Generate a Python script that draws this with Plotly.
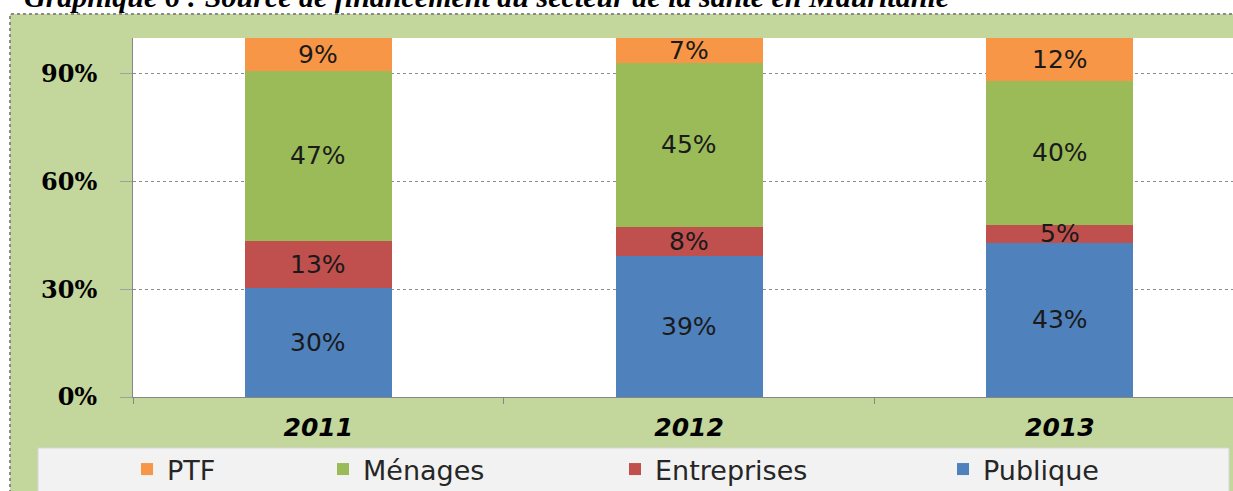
import plotly.graph_objects as go

# values
years = ["2011", "2012", "2013"]
publique = [30, 39, 43]
entreprises = [13, 8, 5]
menages = [47, 45, 40]
ptf = [9, 7, 12]
y_ticks = [0, 30, 60, 90]

series = [
    ("Publique", publique, "#4F81BD"),
    ("Entreprises", entreprises, "#C0504D"),
    ("Ménages", menages, "#9BBB59"),
    ("PTF", ptf, "#F79646"),
]

W, H = 1233, 491
L, T, R, B = 133, 38, 0, 94
PW, PH = W - L - R, H - T - B


def px(x):
    return (x - L) / PW


def py(y):
    return (H - B - y) / PH


fig = go.Figure()

legend_ids = {"PTF": "legend", "Ménages": "legend2", "Entreprises": "legend3", "Publique": "legend4"}
for name, vals, color in series:
    fig.add_trace(go.Bar(
        x=years, y=vals, name=name,
        marker=dict(color=color, line=dict(width=0)),
        legend=legend_ids[name],
    ))

# segment labels, centred in each normalised segment
# (x is the category index: "2011" would be read as a position otherwise)
totals = [sum(s[1][j] for s in series) for j in range(len(years))]
labels = []
base = [0] * len(years)
for name, vals, color in series:
    for j, v in enumerate(vals):
        labels.append(dict(
            x=j, y=(base[j] + v / 2) / totals[j] * 100,
            xref="x", yref="y", text=f"{v}%", showarrow=False,
            font=dict(family="DejaVu Sans", size=25, color="#1A1A1A"),
        ))
        base[j] += v

# green chart area with dotted frame, white plot area, light legend box
shapes = [
    dict(type="rect", xref="paper", yref="paper", layer="below",
         x0=px(10), x1=px(1300), y0=py(600), y1=py(14),
         fillcolor="#C3D69B", line=dict(color="#8A8A8A", width=2, dash="dot")),
    dict(type="rect", xref="paper", yref="paper", layer="below",
         x0=0, x1=1.02, y0=0, y1=1,
         fillcolor="white", line=dict(width=0)),
    dict(type="rect", xref="paper", yref="paper", layer="below",
         x0=px(38), x1=px(1229), y0=py(520), y1=py(448),
         fillcolor="#F2F2F2", line=dict(color="#D6D6D6", width=1)),
]

legend_font = dict(family="DejaVu Sans", size=27, color="#262626")
centers = {"legend": 152, "legend2": 348, "legend3": 640, "legend4": 968}
legends = {}
for key, c in centers.items():
    legends[key] = dict(
        x=px(c - 25), xanchor="left", y=py(494), yanchor="bottom",
        orientation="h", bgcolor="rgba(0,0,0,0)", borderwidth=0,
        font=legend_font,
    )

title = dict(
    text="Graphique 6 : Source de financement du secteur de la santé en Mauritanie",
    xref="paper", yref="paper", x=px(22), y=py(15),
    xanchor="left", yanchor="bottom", showarrow=False,
    font=dict(family="Liberation Serif", size=30, color="black",
              weight="bold", style="italic"),
)

fig.update_layout(
    width=W, height=H,
    margin=dict(l=L, r=R, t=T, b=B, pad=0, autoexpand=False),
    paper_bgcolor="white", plot_bgcolor="white",
    barmode="stack", barnorm="percent", bargap=0.603,
    shapes=shapes,
    showlegend=True,
    **legends,
    annotations=labels + [title],
)

fig.update_yaxes(
    range=[0, 100], tickmode="array", tickvals=y_ticks,
    ticktext=[f"{v}%" for v in y_ticks],
    showgrid=True, gridcolor="#8C8C8C", griddash="dot", gridwidth=1,
    zeroline=False, showline=True, linecolor="#868686", linewidth=1,
    ticks="outside", ticklen=12, tickcolor="#A0A0A0",
    ticklabelstandoff=18,
    tickfont=dict(family="DejaVu Serif", size=24, color="black", weight="bold"),
)

fig.update_xaxes(
    type="category", range=[-0.5, 2.467],
    showline=True, linecolor="#868686", linewidth=1,
    ticks="outside", tickson="boundaries", ticklen=6, tickcolor="#868686",
    showgrid=False, ticklabelstandoff=8,
    tickfont=dict(family="DejaVu Sans", size=25, color="black",
                  weight="bold", style="italic"),
)

fig.write_html("out.html", config={"displayModeBar": False},
               post_script="document.body.style.margin='0';")
